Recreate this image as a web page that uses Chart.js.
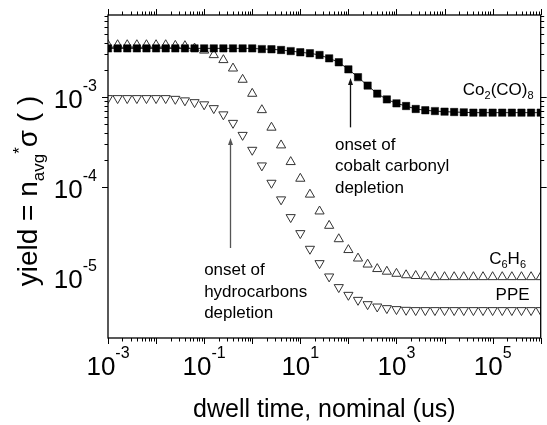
<!DOCTYPE html>
<html>
<head>
<meta charset="utf-8">
<script src="https://cdn.jsdelivr.net/npm/chart.js@4.4.1/dist/chart.umd.min.js"></script>
<style>
  html, body { margin: 0; padding: 0; background: #fff; }
  #wrap { width: 547px; height: 425px; }
</style>
</head>
<body>
<div id="wrap"><canvas id="chart" width="547" height="425"></canvas></div>
<script>
// dwell time (us), 5 points per decade
const dwellTimes = [
  0.001, 0.001585, 0.002512, 0.003981, 0.00631,
  0.01, 0.01585, 0.02512, 0.03981, 0.0631,
  0.1, 0.1585, 0.2512, 0.3981, 0.631,
  1, 1.585, 2.512, 3.981, 6.31,
  10, 15.85, 25.12, 39.81, 63.1,
  100, 158.5, 251.2, 398.1, 631,
  1000, 1585, 2512, 3981, 6310,
  10000, 15850, 25120, 39810, 63100,
  100000, 158500, 251200, 398100, 631000,
  1000000
];

const co2co8Yield = [
  3.47e-3, 3.47e-3, 3.47e-3, 3.47e-3, 3.47e-3,
  3.47e-3, 3.47e-3, 3.47e-3, 3.47e-3, 3.47e-3,
  3.47e-3, 3.47e-3, 3.47e-3, 3.47e-3, 3.47e-3,
  3.47e-3, 3.41e-3, 3.39e-3, 3.33e-3, 3.24e-3,
  3.14e-3, 3.06e-3, 2.93e-3, 2.69e-3, 2.43e-3,
  2.03e-3, 1.66e-3, 1.34e-3, 1.09e-3, 9.4e-4,
  8.5e-4, 7.94e-4, 7.36e-4, 7.12e-4, 6.98e-4,
  6.87e-4, 6.81e-4, 6.76e-4, 6.7e-4, 6.7e-4,
  6.7e-4, 6.7e-4, 6.7e-4, 6.7e-4, 6.7e-4,
  6.7e-4
];

const c6h6Yield = [
  3.78e-3, 3.78e-3, 3.78e-3, 3.78e-3, 3.78e-3,
  3.78e-3, 3.78e-3, 3.72e-3, 3.69e-3, 3.47e-3,
  3.29e-3, 2.93e-3, 2.58e-3, 2.08e-3, 1.56e-3,
  1.09e-3, 7.17e-4, 4.58e-4, 2.91e-4, 1.90e-4,
  1.24e-4, 8.26e-5, 5.37e-5, 3.72e-5, 2.64e-5,
  2.0e-5, 1.61e-5, 1.38e-5, 1.23e-5, 1.15e-5,
  1.09e-5, 1.05e-5, 1.03e-5, 1.02e-5, 1.0e-5,
  1.0e-5, 1.0e-5, 1.0e-5, 1.0e-5, 1.0e-5,
  1.0e-5, 1.0e-5, 1.0e-5, 1.0e-5, 1.0e-5,
  1.0e-5
];

const ppeYield = [
  9.68e-4, 9.68e-4, 9.68e-4, 9.68e-4, 9.68e-4,
  9.68e-4, 9.68e-4, 9.5e-4, 9.14e-4, 8.73e-4,
  8.26e-4, 7.49e-4, 6.39e-4, 5.14e-4, 3.78e-4,
  2.58e-4, 1.73e-4, 1.11e-4, 7.26e-5, 4.61e-5,
  3.06e-5, 2.05e-5, 1.42e-5, 1.01e-5, 7.69e-6,
  6.31e-6, 5.55e-6, 4.97e-6, 4.68e-6, 4.49e-6,
  4.38e-6, 4.30e-6, 4.27e-6, 4.27e-6, 4.27e-6,
  4.27e-6, 4.27e-6, 4.27e-6, 4.27e-6, 4.27e-6,
  4.27e-6, 4.27e-6, 4.27e-6, 4.27e-6, 4.27e-6,
  4.27e-6
];

// tick labels are 10^n, these are the n shown
const xLabelExps = [-3, -1, 1, 3, 5];
const yLabelExps = [-5, -4, -3];
const xRange = [1e-3, 1e6];
const yRange = [2.1e-6, 8.15e-3];

const FONT = '"Liberation Sans", Arial, sans-serif';

function pts(ys) {
  return dwellTimes.map((t, i) => ({ x: t, y: ys[i] }));
}

// "10" with a raised exponent
function powWidth(ctx, e) {
  ctx.font = '26px ' + FONT;
  const a = ctx.measureText('10').width;
  ctx.font = '16px ' + FONT;
  const b = ctx.measureText(String(e)).width;
  return [a, b];
}
function drawPow(ctx, left, base, e) {
  const [a] = powWidth(ctx, e);
  ctx.font = '26px ' + FONT;
  ctx.fillText('10', left, base);
  ctx.font = '16px ' + FONT;
  ctx.fillText(String(e), left + a, base - 17);
}

// text with sub / sup pieces: [[text, kind], ...]
function richWidth(ctx, parts, size) {
  let w = 0;
  for (const [t, k] of parts) {
    ctx.font = (k ? Math.round(size * 0.62) : size) + 'px ' + FONT;
    w += ctx.measureText(t).width;
  }
  return w;
}
function drawRich(ctx, parts, x, y, size) {
  for (const [t, k] of parts) {
    const s = k ? Math.round(size * 0.62) : size;
    ctx.font = s + 'px ' + FONT;
    const dy = k === 'sub' ? size * 0.25 : k === 'sup' ? -size * 0.42 : 0;
    ctx.fillText(t, x, y + dy);
    x += ctx.measureText(t).width;
  }
}

const arrows = [
  { x: 0.34, from: 2.1e-5, to: 3.5e-4, color: '#555' },
  { x: 110, from: 4.6e-4, to: 1.63e-3, color: '#111' }
];

const notes = [
  { x: 0.1, y: 1.05e-5, lines: ['onset of', 'hydrocarbons', 'depletion'] },
  { x: 52.5, y: 2.6e-4, lines: ['onset of', 'cobalt carbonyl', 'depletion'] }
];

const seriesLabels = [
  { x: 2.4e4, y: 1.05e-3, parts: [['Co', ''], ['2', 'sub'], ['(CO)', ''], ['8', 'sub']] },
  { x: 8.5e4, y: 1.39e-5, parts: [['C', ''], ['6', 'sub'], ['H', ''], ['6', 'sub']] },
  { x: 1.15e5, y: 5.55e-6, parts: [['PPE', '']] }
];

const decor = {
  id: 'decor',
  afterDraw(chart) {
    const { ctx, chartArea: a, scales: { x, y } } = chart;
    ctx.save();
    ctx.fillStyle = '#000';
    ctx.strokeStyle = '#000';

    // frame
    ctx.lineWidth = 1.3;
    ctx.strokeRect(a.left, a.top, a.right - a.left, a.bottom - a.top);

    // ticks outside on all four sides
    ctx.lineWidth = 1;
    ctx.beginPath();
    for (let e = -4; e <= 7; e++) {
      for (let m = 1; m <= 9; m++) {
        const v = m * Math.pow(10, e);
        const len = m === 1 ? 6 : 3.5;
        if (v >= xRange[0] * 0.999 && v <= xRange[1] * 1.001) {
          const px = Math.round(x.getPixelForValue(v)) + 0.5;
          ctx.moveTo(px, a.bottom); ctx.lineTo(px, a.bottom + len);
          ctx.moveTo(px, a.top); ctx.lineTo(px, a.top - len);
        }
        if (v >= yRange[0] && v <= yRange[1]) {
          const py = Math.round(y.getPixelForValue(v)) + 0.5;
          ctx.moveTo(a.left, py); ctx.lineTo(a.left - len, py);
          ctx.moveTo(a.right, py); ctx.lineTo(a.right + len, py);
        }
      }
    }
    ctx.stroke();

    // tick labels
    ctx.textBaseline = 'alphabetic';
    ctx.textAlign = 'left';
    for (const e of xLabelExps) {
      const px = x.getPixelForValue(Math.pow(10, e));
      const [w1, w2] = powWidth(ctx, e);
      drawPow(ctx, px - (w1 + w2) / 2, a.bottom + 37, e);
    }
    for (const e of yLabelExps) {
      const py = y.getPixelForValue(Math.pow(10, e));
      const [w1, w2] = powWidth(ctx, e);
      drawPow(ctx, a.left - 11 - (w1 + w2), py + 11, e);
    }

    // axis titles
    ctx.font = '25px ' + FONT;
    ctx.textAlign = 'center';
    ctx.fillText('dwell time, nominal (us)', (a.left + a.right) / 2, 417);

    const yTitle = [['yield = n', ''], ['avg', 'sub'], ['*', 'sup'], ['\u03c3 ( )', '']];
    ctx.textAlign = 'left';
    const tw = richWidth(ctx, yTitle, 28);
    ctx.save();
    ctx.translate(37, 191);
    ctx.rotate(-Math.PI / 2);
    drawRich(ctx, yTitle, -tw / 2, 0, 28);
    ctx.restore();

    // arrows
    for (const ar of arrows) {
      const px = Math.round(x.getPixelForValue(ar.x)) + 0.5;
      const y0 = y.getPixelForValue(ar.from);
      const y1 = y.getPixelForValue(ar.to);
      ctx.strokeStyle = ar.color;
      ctx.fillStyle = ar.color;
      ctx.lineWidth = 1.3;
      ctx.beginPath();
      ctx.moveTo(px, y0); ctx.lineTo(px, y1 + 5);
      ctx.stroke();
      ctx.beginPath();
      ctx.moveTo(px, y1); ctx.lineTo(px - 2.5, y1 + 7); ctx.lineTo(px + 2.5, y1 + 7);
      ctx.closePath();
      ctx.fill();
    }

    // notes
    ctx.fillStyle = '#000';
    ctx.font = '17px ' + FONT;
    ctx.textAlign = 'left';
    for (const n of notes) {
      const px = x.getPixelForValue(n.x);
      const py = y.getPixelForValue(n.y);
      n.lines.forEach((l, i) => ctx.fillText(l, px, py + i * 21.5));
    }

    // series labels
    for (const s of seriesLabels) {
      drawRich(ctx, s.parts, x.getPixelForValue(s.x), y.getPixelForValue(s.y), 17);
    }
    ctx.restore();
  }
};

new Chart(document.getElementById('chart'), {
  type: 'scatter',
  data: {
    datasets: [
      {
        label: 'Co2(CO)8',
        data: pts(co2co8Yield),
        showLine: true,
        borderColor: '#222',
        borderWidth: 1,
        pointStyle: 'rect',
        pointRadius: 5.2,
        pointBackgroundColor: '#000',
        pointBorderColor: '#000',
        pointBorderWidth: 0.5,
        clip: 0
      },
      {
        label: 'C6H6',
        data: pts(c6h6Yield),
        showLine: false,
        pointStyle: 'triangle',
        pointRadius: 5.3,
        pointBackgroundColor: 'rgba(255,255,255,0)',
        pointBorderColor: '#333',
        pointBorderWidth: 1,
        clip: 0
      },
      {
        label: 'PPE',
        data: pts(ppeYield),
        showLine: false,
        pointStyle: 'triangle',
        rotation: 180,
        pointRadius: 5.3,
        pointBackgroundColor: 'rgba(255,255,255,0)',
        pointBorderColor: '#333',
        pointBorderWidth: 1,
        clip: 0
      }
    ]
  },
  options: {
    responsive: false,
    animation: false,
    events: [],
    layout: { padding: { top: 15, right: 3, left: 0, bottom: 0 } },
    plugins: { legend: { display: false }, tooltip: { enabled: false } },
    scales: {
      x: {
        type: 'logarithmic',
        min: xRange[0], max: xRange[1],
        grid: { display: false },
        border: { display: false },
        ticks: { display: false },
        afterFit: s => { s.height = 87; }
      },
      y: {
        type: 'logarithmic',
        min: yRange[0], max: yRange[1],
        grid: { display: false },
        border: { display: false },
        ticks: { display: false },
        afterFit: s => { s.width = 108; }
      }
    }
  },
  plugins: [decor]
});
</script>
</body>
</html>
